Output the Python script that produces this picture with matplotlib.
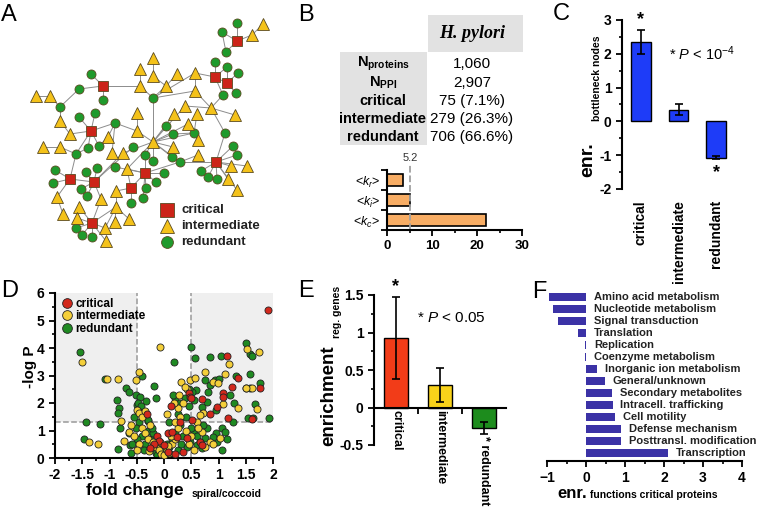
import matplotlib
matplotlib.use("Agg")
import matplotlib.pyplot as plt
from matplotlib.lines import Line2D
from matplotlib.ticker import MultipleLocator
import numpy as np

plt.rcParams['font.family'] = ['Liberation Sans', 'DejaVu Sans']
plt.rcParams['font.weight'] = 'bold'
plt.rcParams['mathtext.fontset'] = 'custom'
plt.rcParams['mathtext.rm'] = 'Liberation Sans:weight=normal'
plt.rcParams['mathtext.it'] = 'Liberation Sans:style=italic:weight=normal'
plt.rcParams['mathtext.bf'] = 'Liberation Sans:weight=bold'
plt.rcParams['axes.linewidth'] = 1.5

W, H = 760, 519

# ---------------- data ----------------
# A: network layout (node position, class) and links
net_x = [237, 222, 237, 252, 263, 226, 215, 227, 215, 227, 238, 223, 236, 195, 195, 211, 235, 225, 233, 237,
         216, 231, 247, 201, 208, 217, 228, 237, 180, 198, 198, 194, 188, 197, 185, 174, 166, 173, 173, 172,
         153, 145, 153, 145, 164, 156, 146, 143, 153, 153, 140, 140, 166, 177, 153, 137, 137, 115, 133, 123,
         112, 115, 127, 131, 131, 116, 116, 129, 115, 105, 106, 101, 99, 108, 95, 79, 91, 88, 76, 70,
         60, 60, 36, 50, 79, 103, 91, 103, 43, 60, 70, 55, 53, 57, 63, 94, 97, 86, 81, 87,
         79, 77, 92, 76, 82, 92]
net_y = [23, 32, 41, 35, 24, 52, 62, 67, 77, 83, 73, 95, 93, 73, 91, 108, 115, 133, 146, 155,
         162, 166, 166, 171, 177, 179, 179, 190, 162, 155, 140, 133, 124, 114, 106, 114, 126, 134, 147, 157,
         142, 155, 161, 173, 173, 182, 188, 198, 58, 76, 69, 86, 86, 74, 98, 113, 131, 123, 147, 153,
         153, 167, 169, 188, 203, 191, 207, 219, 222, 228, 241, 199, 146, 137, 113, 117, 131, 148, 154, 134,
         121, 107, 96, 96, 89, 86, 74, 100, 147, 147, 179, 170, 183, 197, 214, 182, 168, 172, 189, 196,
         207, 218, 223, 228, 235, 237]
net_kind = list("GGRTTGGGRRGGGTTTTGGG"
                "RTTGGGTTGTTGTTTTGGTG"
                "TGGRGGGGTTTTTTGTTGGT"
                "TGTRGTTTTTTTGTGGRGGT"
                "TGTTGRGGTTRGGTTRGGGG"
                "TTRGGG")
net_edges = [(2, 0), (2, 1), (2, 5), (2, 3), (3, 4), (8, 6), (8, 7), (8, 13), (8, 11), (9, 7), (9, 10),
             (9, 12), (9, 8), (13, 54), (13, 14), (14, 54), (14, 15), (15, 11), (15, 16), (15, 34),
             (15, 17), (17, 20), (20, 18), (20, 19), (20, 21), (20, 22), (20, 23), (20, 24), (20, 25),
             (20, 26), (20, 27), (20, 28), (28, 40), (54, 40), (54, 51), (54, 52), (51, 50), (52, 49),
             (52, 53), (49, 48), (85, 86), (85, 87), (85, 84), (85, 51), (84, 81), (81, 83), (83, 82),
             (81, 80), (80, 79), (76, 75), (76, 74), (76, 57), (76, 77), (76, 72), (76, 79), (76, 78),
             (57, 56), (56, 55), (56, 40), (40, 36), (40, 35), (40, 37), (40, 38), (40, 41), (40, 42),
             (40, 59), (40, 32), (40, 31), (40, 34), (37, 31), (31, 30), (31, 33), (29, 28), (39, 40),
             (43, 44), (43, 45), (43, 46), (43, 47), (43, 62), (43, 61), (43, 41), (43, 28), (63, 64),
             (63, 65), (63, 62), (63, 43), (66, 65), (66, 67), (66, 68), (66, 69), (95, 96), (95, 97),
             (95, 98), (95, 99), (95, 71), (95, 90), (95, 59), (95, 58), (102, 100), (102, 101),
             (102, 103), (102, 104), (102, 105), (102, 71), (102, 69), (102, 70), (102, 66), (90, 91),
             (90, 92), (90, 93), (90, 78), (93, 94), (88, 89), (89, 78), (78, 77), (72, 73), (73, 57),
             (62, 40), (60, 57), (5, 1)]

# B: summary table and mean degrees
tbl_rows = [r"$\mathbf{N}_{\mathbf{proteins}}$", r"$\mathbf{N}_{\mathbf{PPI}}$",
            "critical", "intermediate", "redundant"]
tbl_vals = ["1,060", "2,907", "75 (7.1%)", "279 (26.3%)", "706 (66.6%)"]
k_labels = [r"<$k_r$>", r"<$k_i$>", r"<$k_c$>"]
k_vals = [3.6, 5.1, 22.0]
k_mean = 5.2

# C: enrichment of bottleneck nodes
cls_names = ["critical", "intermediate", "redundant"]
enr_bn = [2.35, 0.35, -1.07]
enr_bn_err = [0.35, 0.15, 0.05]
bn_ticks = [-2, -1, 0, 1, 2, 3]

# D: volcano plot (fold change, -log P)
crit_fc = [1.90, 1.15, 1.36, 1.25, 1.76, 1.08, 1.08, 0.69, 0.97, 0.84, 1.17, 1.61, 0.45, 0.48, -0.32,
           -0.13, -0.09, 0.0, 0.07, 0.14, 0.23, 0.34, 0.08, 0.42, 0.50, 0.66, 0.69, 0.51, -0.18, -0.25,
           0.12, 0.30, 0.20]
crit_lp = [5.38, 3.71, 2.92, 2.59, 2.53, 2.35, 2.23, 2.15, 1.86, 1.60, 1.47, 1.42, 2.35, 2.23, 1.59,
           0.80, 0.63, 0.47, 0.90, 0.93, 0.77, 0.23, 0.23, 0.72, 2.20, 0.59, 0.47, 1.38, 0.50, 0.35,
           1.90, 1.30, 0.15]
int_fc = [-1.51, -0.07, -1.04, -0.84, -0.51, -0.45, -0.79, -1.37, -1.22, -0.73, -0.65, -0.50, -0.45, -0.41,
          1.52, 1.74, 1.19, 0.75, 1.12, 0.32, 0.48, 0.89, 0.99, 1.61, 0.42, 1.09, 1.35, 1.70, 0.72, 0.66,
          0.60, 0.26, 0.69, 0.84, 1.03, 0.90, 0.75, 0.63, 0.55,
          -0.40, -0.35, -0.30, -0.25, -0.20, -0.15, -0.10, -0.05, 0.0, 0.05, 0.10, 0.15, 0.20, 0.25, 0.30,
          0.35, 0.28, 0.40, 0.45, 0.50, -0.45, -0.50, -0.55, -0.60, 0.20, 0.12, -0.08, 0.18, 0.38, 0.05,
          -0.35, 1.50, 0.57, -0.28, 0.08]
int_lp = [3.50, 4.05, 2.87, 2.86, 2.84, 3.14, 1.35, 0.59, 0.50, 0.62, 0.96, 1.75, 1.62, 1.50,
          3.96, 3.87, 3.41, 3.12, 3.04, 2.78, 2.84, 2.78, 2.73, 2.53, 2.50, 1.95, 1.81, 1.78, 1.62, 1.56,
          1.32, 1.81, 0.96, 0.60, 0.72, 0.50, 0.40, 1.08, 0.30,
          1.10, 0.90, 0.70, 1.20, 0.60, 0.40, 0.30, 0.15, 0.10, 0.30, 0.20, 0.50, 0.70, 1.10, 1.50,
          2.00, 2.30, 1.00, 0.50, 0.80, 0.50, 0.30, 0.80, 1.20, 1.30, 0.80, 0.60, 2.00, 2.60, 1.60,
          1.70, 2.55, 2.90, 0.25, 0.45]
red_fc = [-1.54, -1.08, -0.40, -0.70, -0.64, -0.18, -0.51, -0.44, -0.33, -0.15, -0.87, -0.82, -0.84,
          -1.44, -1.17, -0.81, -1.47, -0.85, -0.62, -0.50, -0.29,
          1.50, 1.57, 1.61, 0.50, 0.18, 0.84, 1.04, 0.56, 0.76, 1.32, 1.58, 0.59, 0.84, 0.94, 1.00, 1.50,
          1.57, 1.77, 0.81, 1.21, 0.78, 1.29, 1.67, 0.95, 0.69, 1.26, 1.55, 1.92, 1.64,
          0.78, 0.96, 0.75, 0.66, 0.60, 0.69, 0.97, 1.06, 1.12, 1.15, 1.06, 0.90, 0.72, 0.55, 0.60,
          -0.45, -0.40, -0.35, -0.30, -0.25, -0.20, -0.15, -0.10, -0.05, 0.0, 0.05, 0.10, 0.15, 0.20,
          0.25, 0.30, 0.35, 0.40, 0.45, 0.42, 0.50, 0.20, 0.17, 0.25, 0.10, -0.50, -0.55, -0.60, -0.48,
          -0.42, -0.38, -0.30, -0.22, 0.30, 0.38, 0.52, -0.02, 0.02, -0.12, 0.12, -0.65, -0.58, 0.48,
          0.32, -0.52, -0.47, -0.36, 0.45, 0.55]
red_lp = [3.85, 2.87, 3.00, 2.55, 2.41, 2.63, 2.29, 2.23, 2.07, 2.18, 2.11, 1.83, 1.62,
          1.32, 1.25, 1.09, 0.69, 0.32, 0.47, 1.93, 1.35,
          4.20, 3.78, 3.71, 4.05, 3.50, 3.68, 3.71, 3.63, 2.84, 2.98, 3.04, 2.47, 2.65, 2.84, 2.87, 2.53,
          2.56, 2.72, 2.39, 2.29, 2.05, 1.99, 1.95, 1.75, 1.86, 1.32, 1.47, 1.47, 1.47,
          1.08, 0.90, 0.72, 0.59, 0.47, 0.35, 0.59, 1.08, 0.96, 0.70, 0.29, 0.75, 1.20, 1.00, 0.80,
          1.30, 0.80, 0.50, 1.00, 0.70, 0.90, 0.20, 0.50, 0.40, 0.05, 0.50, 0.40, 0.70, 0.90,
          0.30, 1.20, 0.80, 1.50, 1.90, 0.40, 1.10, 2.20, 2.29, 1.60, 1.30, 0.70, 1.50, 0.20, 2.00,
          1.90, 1.60, 1.40, 1.10, 2.00, 2.20, 2.40, 0.25, 0.12, 0.10, 0.10, 0.90, 0.50, 0.60,
          0.50, 1.10, 1.70, 0.30, 2.50, 2.10]

# E: enrichment of regulated genes
enr_reg = [0.93, 0.30, -0.27]
enr_reg_lo = [0.55, 0.23, 0.08]
enr_reg_hi = [0.55, 0.23, 0.08]

# F: functional enrichment of critical proteins
func_names = ["Amino acid metabolism", "Nucleotide metabolism", "Signal transduction", "Translation",
              "Replication", "Coenzyme metabolism", "Inorganic ion metabolism", "General/unknown",
              "Secondary metabolites", "Intracell. trafficking", "Cell motility", "Defense mechanism",
              "Posttransl. modification", "Transcription"]
func_enr = [-0.95, -0.84, -0.73, -0.2, -0.02, -0.02, 0.28, 0.49, 0.66, 0.68, 0.75, 0.9, 0.9, 2.1]

# ---------------- figure ----------------
fig = plt.figure(figsize=(W / 100, H / 100), dpi=100)


def px_axes(l, t, r, b):
    return fig.add_axes([l / W, 1 - b / H, (r - l) / W, (b - t) / H])


ov = fig.add_axes([0, 0, 1, 1], zorder=-1)
ov.set_xlim(0, W)
ov.set_ylim(H, 0)
ov.axis('off')

node_style = {'R': dict(marker='s', color='#cc2418', ms=7.5),
              'T': dict(marker='^', color='#f4c21a', ms=8),
              'G': dict(marker='o', color='#1f9a2c', ms=6.5)}

# A: network
for i, j in net_edges:
    ov.plot([net_x[i], net_x[j]], [net_y[i], net_y[j]], color='#8c8c8c', lw=0.7, zorder=1)
for k in 'GTR':
    xs = [x for x, kk in zip(net_x, net_kind) if kk == k]
    ys = [y for y, kk in zip(net_y, net_kind) if kk == k]
    st = node_style[k]
    ov.plot(xs, ys, ls='none', marker=st['marker'], ms=st['ms'], mfc=st['color'],
            mec='#5a4a20', mew=0.6, zorder=3)
for k, lab, yy in zip('RTG', cls_names, [210, 226, 242]):
    st = node_style[k]
    ov.plot([167], [yy], ls='none', marker=st['marker'], ms=st['ms'] + 2, mfc=st['color'],
            mec='#5a4a20', mew=0.6, zorder=3)
    ov.text(181, yy, lab, va='center', ha='left', fontsize=9.5, color='#222222')

# B: table
ov.add_patch(plt.Rectangle((428, 15), 95, 37, color='#e2e2e2', lw=0))
ov.add_patch(plt.Rectangle((340, 52), 87, 93, color='#e2e2e2', lw=0))
ov.text(472, 33, "H. pylori", ha='center', va='center', fontsize=13,
        family='Liberation Serif', style='italic', weight='bold')
row_y = [64, 83, 101, 119, 137]
for lab, val, yy in zip(tbl_rows, tbl_vals, row_y):
    ov.text(383, yy, lab, ha='center', va='center', fontsize=10.5)
    ov.text(472, yy, val, ha='center', va='center', fontsize=11, weight='normal')

axB = px_axes(387, 170, 522, 230)
yk = np.arange(len(k_vals))
axB.barh(yk, k_vals, height=0.62, color='#f8ad64', edgecolor='black', lw=1.2)
axB.axvline(k_mean, ymin=0, ymax=1.08, ls='--', color='#a0a0a0', lw=1.3, clip_on=False)
axB.text(k_mean, -0.85, f"{k_mean}", ha='center', va='bottom', fontsize=8, weight='normal', color='#333')
axB.set_xlim(0, 30)
axB.set_ylim(2.5, -0.5)
axB.set_yticks(yk)
axB.set_yticklabels(k_labels, fontsize=9, weight='normal')
axB.set_yticks([-0.5, 0.5, 1.5, 2.5], minor=True)
axB.tick_params(axis='y', which='major', length=0, pad=5)
axB.tick_params(axis='y', which='minor', length=4, width=1.3)
axB.set_xticks([0, 10, 20, 30])
axB.xaxis.set_minor_locator(MultipleLocator(5))
axB.tick_params(axis='x', which='major', labelsize=9.5, length=4, width=1.3)
axB.tick_params(axis='x', which='minor', length=2.5, width=1.2)
for s in ['top', 'right']:
    axB.spines[s].set_visible(False)

# C: bottleneck enrichment
axC = px_axes(622, 20, 735, 189)
xc = np.arange(3)
axC.bar(xc, enr_bn, width=0.53, color='#1e3cf8', edgecolor='black', lw=1,
        yerr=enr_bn_err, capsize=3, error_kw=dict(lw=1.2, capthick=1.2))
axC.set_xlim(-0.5, 2.5)
axC.set_ylim(-2, 3)
for s in ['top', 'right', 'bottom']:
    axC.spines[s].set_visible(False)
axC.set_yticks(bn_ticks)
axC.set_yticklabels([str(t) for t in bn_ticks])
axC.yaxis.set_minor_locator(MultipleLocator(0.5))
axC.tick_params(axis='y', which='major', labelsize=10, length=4, width=1.3)
axC.tick_params(axis='y', which='minor', length=2.5, width=1.2)
axC.set_xticks(xc)
axC.set_xticklabels(cls_names, rotation=90, fontsize=10)
axC.tick_params(axis='x', length=0, pad=8)
axC.text(0, enr_bn[0] + enr_bn_err[0] + 0.05, "*", ha='center', va='bottom', fontsize=13)
axC.text(2, enr_bn[2] - enr_bn_err[2] - 0.15, "*", ha='center', va='top', fontsize=13)
axC.text(0.75, 2.0, r"* $P$ < 10$^{-4}$", ha='left', va='center', fontsize=10.5, weight='normal')
ov.text(588, 160, "enr.", rotation=90, ha='center', va='center', fontsize=14)
ov.text(597, 78, "bottleneck nodes", rotation=90, ha='center', va='center', fontsize=7.5)

# D: volcano
axD = px_axes(55, 293, 273, 458)
axD.add_patch(plt.Rectangle((-2, 1.3), 1.5, 4.7, color='#efefef', lw=0, zorder=0))
axD.add_patch(plt.Rectangle((0.5, 1.3), 1.5, 4.7, color='#efefef', lw=0, zorder=0))
for xv in [-0.5, 0.5]:
    axD.axvline(xv, ls='--', color='#999999', lw=1.1, zorder=1)
axD.axhline(1.3, ls='--', color='#999999', lw=1.1, zorder=1)
axD.scatter(red_fc, red_lp, s=26, c='#1f8a22', edgecolors='#222', linewidths=0.6, zorder=2)
axD.scatter(int_fc, int_lp, s=26, c='#f4cf3a', edgecolors='#222', linewidths=0.6, zorder=3)
axD.scatter(crit_fc, crit_lp, s=26, c='#d2281c', edgecolors='#222', linewidths=0.6, zorder=4)
axD.set_xlim(-2, 2)
axD.set_ylim(0, 6)
for s in ['top', 'right']:
    axD.spines[s].set_visible(False)
axD.set_xticks([-2, -1.5, -1, -0.5, 0, 0.5, 1, 1.5, 2])
axD.set_xticklabels(['-2', '-1.5', '-1', '-0.5', '0', '0.5', '1', '1.5', '2'])
axD.xaxis.set_minor_locator(MultipleLocator(0.25))
axD.yaxis.set_major_locator(MultipleLocator(1))
axD.yaxis.set_minor_locator(MultipleLocator(0.5))
axD.tick_params(which='major', labelsize=10, length=4, width=1.3)
axD.tick_params(which='minor', length=2.5, width=1.2)
hD = [Line2D([], [], ls='none', marker='o', ms=7, mfc=c, mec='#222', mew=0.6)
      for c in ['#d2281c', '#f4cf3a', '#1f8a22']]
axD.legend(hD, cls_names, loc='upper left', frameon=False, fontsize=8.5, handletextpad=0.1,
           labelspacing=0.05, borderaxespad=0.2, handlelength=1.2, borderpad=0.2)
ov.text(30, 367, "-log P", rotation=90, ha='center', va='center', fontsize=11)
ov.text(135, 491, "fold change", ha='center', va='center', fontsize=12.5)
ov.text(192, 494, "spiral/coccoid", ha='left', va='center', fontsize=7.5)

# E: regulated genes
axE = px_axes(374, 295, 506, 445)
xe = np.arange(3)
axE.bar(xe, enr_reg, width=0.55, color=['#f23c18', '#f8d21a', '#1d8c1d'], edgecolor='black', lw=1,
        yerr=[enr_reg_lo, enr_reg_hi], capsize=3, error_kw=dict(lw=1.2, capthick=1.2))
axE.set_xlim(-0.5, 2.5)
axE.set_ylim(-0.5, 1.5)
axE.spines['bottom'].set_position(('data', 0))
for s in ['top', 'right']:
    axE.spines[s].set_visible(False)
axE.set_yticks([-0.5, 0, 0.5, 1, 1.5])
axE.set_yticklabels(['-0.5', '0', '0.5', '1', '1.5'])
axE.yaxis.set_minor_locator(MultipleLocator(0.25))
axE.tick_params(axis='y', which='major', labelsize=10, length=4, width=1.3)
axE.tick_params(axis='y', which='minor', length=2.5, width=1.2)
axE.set_xticks([0.5, 1.5])
axE.set_xticklabels([])
axE.tick_params(axis='x', length=4, width=1.3)
for i, name in enumerate(cls_names):
    y0 = min(0, enr_reg[i] - enr_reg_lo[i]) - 0.03
    lab = name if enr_reg[i] >= 0 else "* " + name
    axE.text(i, y0, lab, rotation=270, ha='center', va='top', fontsize=9)
axE.text(0, enr_reg[0] + enr_reg_hi[0] + 0.02, "*", ha='center', va='bottom', fontsize=13)
axE.text(0.48, 1.2, r"* $P$ < 0.05", ha='left', va='center', fontsize=11, weight='normal')
ov.text(329, 396, "enrichment", rotation=90, ha='center', va='center', fontsize=13.5)
ov.text(337, 312, "reg. genes", rotation=90, ha='center', va='center', fontsize=7.5)

# F: functional enrichment
axF = px_axes(547, 289, 742, 461)
yf = np.arange(len(func_enr))
axF.barh(yf, func_enr, height=0.72, color='#3b32a6', lw=0)
for i, (name, v) in enumerate(zip(func_names, func_enr)):
    axF.text(max(v, 0) + 0.2, i, name, ha='left', va='center', fontsize=8, color='#222')
axF.set_xlim(-1, 4)
axF.set_ylim(len(func_enr) - 0.33, -0.67)
for s in ['top', 'right', 'left']:
    axF.spines[s].set_visible(False)
axF.set_yticks([])
axF.xaxis.set_major_locator(MultipleLocator(1))
axF.xaxis.set_minor_locator(MultipleLocator(0.5))
axF.tick_params(axis='x', which='major', labelsize=10, length=4, width=1.3)
axF.tick_params(axis='x', which='minor', length=2.5, width=1.2)
ov.text(572, 493, "enr.", ha='center', va='center', fontsize=12)
ov.text(590, 495, "functions critical proteins", ha='left', va='center', fontsize=7.5)

# panel letters
for lab, (lx, ly) in zip("ABCDEF", [(9, 15), (306, 15), (561, 14), (10, 291), (306, 291), (539, 292)]):
    ov.text(lx, ly, lab, ha='center', va='center', fontsize=17, weight='normal')

fig.savefig("out.png", dpi=100)
